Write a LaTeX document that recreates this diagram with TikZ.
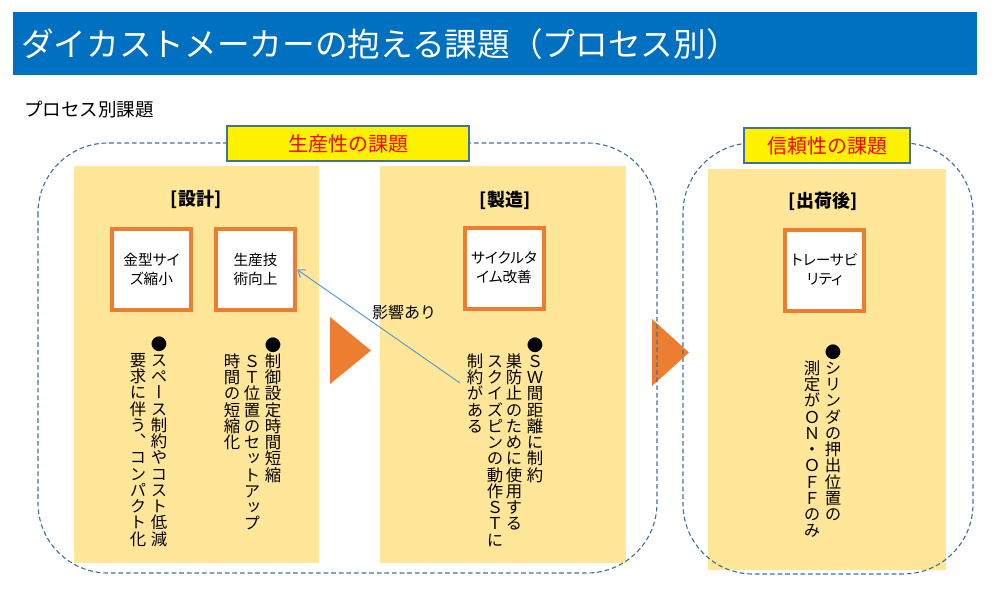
\documentclass[tikz,border=0pt]{standalone}
\usepackage{fontspec}
\setmainfont{Noto Sans CJK JP}
\newfontfamily\vjp[RawFeature=+vert]{Noto Sans CJK JP}
\newfontfamily\pjp[RawFeature=+palt]{Noto Sans CJK JP}
\usetikzlibrary{arrows.meta}
\definecolor{titleblue}{RGB}{0,112,192}
\definecolor{dashblue}{RGB}{65,113,156}
\definecolor{panelbeige}{RGB}{255,230,153}
\definecolor{boxorange}{RGB}{237,125,49}
\definecolor{arrowblue}{RGB}{91,155,213}
\def\endvcol{}
\def\vcolloop#1{\ifx\endvcol#1\else\hbox to 1em{\hss#1\hss}\expandafter\vcolloop\fi}
\newcommand\vcol[1]{\vtop{\vjp\fontsize{12.3pt}{12.2pt}\selectfont\baselineskip=12.2pt\lineskiplimit=-100pt\lineskip=0pt\vcolloop#1\endvcol}}
\tikzset{
  vtxt/.style={inner sep=0pt, anchor=base, text=black},
  issuebox/.style={draw=boxorange, line width=3pt, fill=white, minimum width=59.25pt, minimum height=60.75pt, inner sep=0pt, align=center, font=\pjp\fontsize{11pt}{14.25pt}\selectfont},
  panel/.style={fill=panelbeige},
  grouplabel/.style={draw=dashblue, line width=1.1pt, fill=yellow, text=red, font=\fontsize{15pt}{15pt}\selectfont, inner sep=0pt, minimum height=26.25pt},
  groupframe/.style={draw=dashblue, line width=0.85pt, dash pattern=on 3.5pt off 2.2pt, rounded corners=52.5pt},
  hdr/.style={font=\bfseries\fontsize{13.5pt}{13.5pt}\selectfont, inner sep=0pt},
  flowtri/.style={fill=boxorange},
}
\begin{document}
\begin{tikzpicture}[x=0.75pt,y=-0.75pt]
\useasboundingbox (0,0) rectangle (1000,589);
% title bar
\fill[titleblue] (13,12) rectangle (977,75);
\node[anchor=west, text=white, inner sep=0pt, font=\fontsize{24.5pt}{24.5pt}\selectfont] (title) at (21,44) {ダイカストメーカーの抱える課題（プロセス別）};
\node[anchor=west, inner sep=0pt, font=\fontsize{13.9pt}{13.9pt}\selectfont] (sub) at (24,110) {プロセス別課題};
% panels
\fill[panel] (74,166) rectangle (319,563);
\fill[panel] (380,166) rectangle (626,563);
\fill[panel] (708,169) rectangle (946,570);
% flow triangles
\fill[flowtri] (330,317) -- (371,350.5) -- (330,384) -- cycle;
\fill[flowtri] (652,319) -- (689,352.5) -- (652,386) -- cycle;
% group frames
\draw[groupframe] (38,143) rectangle (657,573);
\draw[groupframe] (683,143) rectangle (973,574);
% group labels
\node[grouplabel, minimum width=181.5pt] (prodlabel) at (348,143.5) {生産性の課題};
\node[grouplabel, minimum width=124.5pt] (rellabel) at (827,145.5) {信頼性の課題};
% headers
\node[hdr] (h1) at (196,199) {[設計]};
\node[hdr] (h2) at (505,200) {[製造]};
\node[hdr] (h3) at (823,201) {[出荷後]};
% issue boxes
\node[issuebox] (b1) at (151.5,269.5) {金型サイ\\ズ縮小};
\node[issuebox] (b2) at (255.5,269.5) {生産技\\術向上};
\node[issuebox] (b3) at (504,268) {サイクルタ\\イム改善};
\node[issuebox] (b4) at (824.5,270) {トレーサビ\\リティ};
% vertical texts
\node[vtxt] (a1) at (159,350) {\vcol{●スペース制約やコスト低減}};
\node[vtxt] (a2) at (138,366.3) {\vcol{要求に伴う、コンパクト化}};
\node[vtxt] (c1) at (273,351) {\vcol{●制御設定時間短縮}};
\node[vtxt] (c2) at (252,367.3) {\vcol{ＳＴ位置のセットアップ}};
\node[vtxt] (c3) at (232,367.3) {\vcol{時間の短縮化}};
\node[vtxt] (d1) at (535,351) {\vcol{●ＳＷ間距離に制約}};
\node[vtxt] (d2) at (514,367.3) {\vcol{巣防止のために使用する}};
\node[vtxt] (d3) at (495,367.3) {\vcol{スクイズピンの動作ＳＴに}};
\node[vtxt] (d4) at (475,367.3) {\vcol{制約がある}};
\node[vtxt] (e1) at (833,358) {\vcol{●シリンダの押出位置の}};
\node[vtxt] (e2) at (812,374.3) {\vcol{測定がＯＮ・ＯＦＦのみ}};
% influence arrow
\coordinate (inflstart) at (460,383);
\draw[arrowblue, line width=0.75pt, -{Straight Barb[length=5pt,width=7pt]}] (inflstart) -- (b2.east);
\node[inner sep=0pt, font=\fontsize{12pt}{12pt}\selectfont] (infl) at (404,312) {影響あり};
\end{tikzpicture}
\end{document}
